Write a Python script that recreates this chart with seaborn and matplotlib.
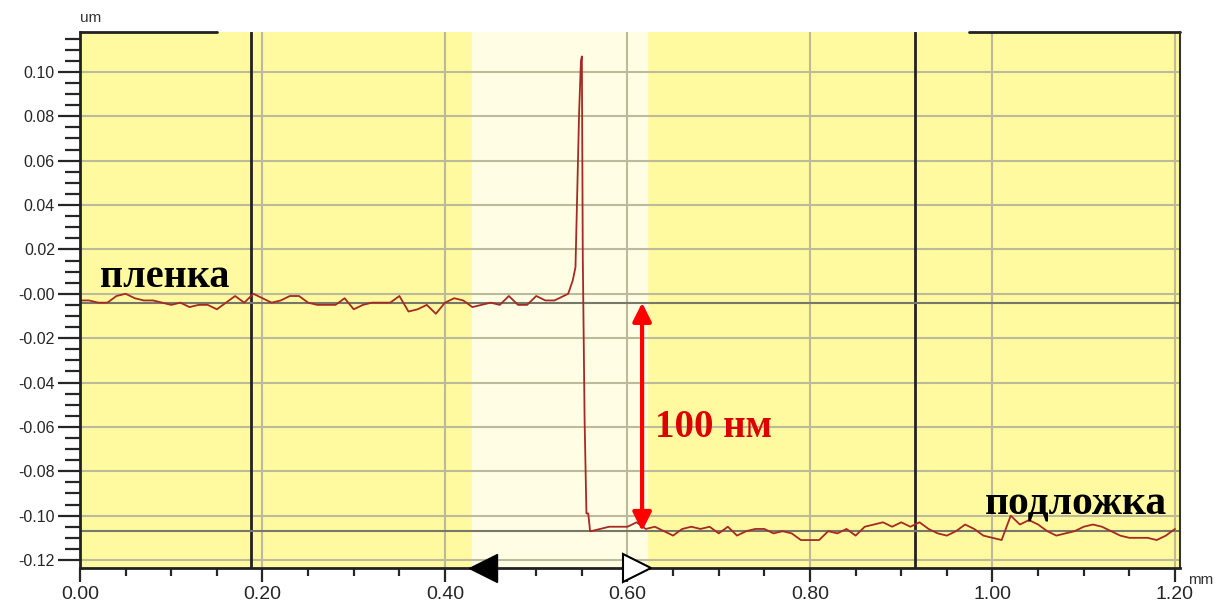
import numpy as np
import pandas as pd
import seaborn as sns
import matplotlib.pyplot as plt
from matplotlib.ticker import MultipleLocator

# profile (um vs mm)
film_y = [-0.003, -0.003, -0.004, -0.004, -0.001, 0.000, -0.002, -0.003, -0.003, -0.004,
          -0.005, -0.004, -0.006, -0.005, -0.005, -0.007, -0.004, -0.001, -0.004, 0.000,
          -0.002, -0.004, -0.003, -0.001, -0.001, -0.004, -0.005, -0.005, -0.005, -0.002,
          -0.007, -0.005, -0.004, -0.004, -0.004, -0.001, -0.008, -0.007, -0.005, -0.009,
          -0.004, -0.002, -0.003, -0.006, -0.005, -0.004, -0.005, -0.001, -0.005, -0.005,
          -0.001, -0.003, -0.003, -0.001]
step_x = [0.535, 0.540, 0.543, 0.545, 0.547, 0.549, 0.550, 0.551, 0.553, 0.555, 0.557, 0.559]
step_y = [0.000, 0.006, 0.012, 0.048, 0.082, 0.105, 0.107, 0.017, -0.057, -0.099, -0.099, -0.107]
sub_y = [-0.107, -0.106, -0.105, -0.105, -0.105, -0.103, -0.106, -0.105, -0.107, -0.109,
         -0.106, -0.105, -0.106, -0.105, -0.108, -0.105, -0.109, -0.107, -0.106, -0.106,
         -0.108, -0.107, -0.108, -0.111, -0.111, -0.111, -0.107, -0.108, -0.106, -0.109,
         -0.105, -0.104, -0.103, -0.105, -0.103, -0.105, -0.103, -0.106, -0.108, -0.109,
         -0.107, -0.104, -0.106, -0.109, -0.110, -0.111, -0.100, -0.104, -0.102, -0.104,
         -0.107, -0.109, -0.108, -0.107, -0.105, -0.104, -0.105, -0.107, -0.109, -0.110,
         -0.110, -0.110, -0.111, -0.109, -0.106]

xticks = [0.0, 0.2, 0.4, 0.6, 0.8, 1.0, 1.2]
xtick_labels = ["0.00", "0.20", "0.40", "0.60", "0.80", "1.00", "1.20"]
yticks = [-0.12, -0.10, -0.08, -0.06, -0.04, -0.02, 0.0, 0.02, 0.04, 0.06, 0.08, 0.10]
ytick_labels = ["-0.12", "-0.10", "-0.08", "-0.06", "-0.04", "-0.02", "-0.00",
                "0.02", "0.04", "0.06", "0.08", "0.10"]

film_x = np.linspace(0.0, 0.53, len(film_y))
sub_x = np.linspace(0.56, 1.20, len(sub_y))
df = pd.DataFrame({"x": np.concatenate([film_x, step_x, sub_x]),
                   "y": np.concatenate([film_y, step_y, sub_y])})

sns.set_style("white")
plt.rcParams['font.family'] = ['Liberation Sans', 'DejaVu Sans']

fig = plt.figure(figsize=(12.23, 6.09), dpi=100)
ax = fig.add_axes([80/1223, 1 - 568/609, 1100/1223, 536/609])
ax.set_facecolor('#fffa9f')
ax.axvspan(0.43, 0.621, color='#fffde3', zorder=0)

ax.set_xlim(0, 1.2055)
ax.set_ylim(-0.1236, 0.118)
ax.set_xticks(xticks, labels=xtick_labels)
ax.set_yticks(yticks, labels=ytick_labels)
ax.xaxis.set_minor_locator(MultipleLocator(0.05))
ax.yaxis.set_minor_locator(MultipleLocator(0.005))
ax.set_axisbelow(True)
ax.grid(True, which='major', color='#bdb99c', lw=1.5)

ax.tick_params(axis='y', which='major', length=16, width=1.6, labelsize=11.5, pad=2, left=True)
ax.tick_params(axis='y', which='minor', length=11, width=1.6, left=True)
ax.tick_params(axis='x', which='major', length=10, width=1.6, labelsize=14, pad=3, bottom=True)
ax.tick_params(axis='x', which='minor', length=6, width=1.6, bottom=True)

for side in ['left', 'bottom']:
    ax.spines[side].set_linewidth(2)
    ax.spines[side].set_color('#222222')
ax.spines['right'].set_linewidth(1.5)
ax.spines['right'].set_color('#333333')
ax.spines['top'].set_visible(False)
ax.axhline(0.118, xmin=0, xmax=0.1245, color='#222222', lw=2, clip_on=False)
ax.axhline(0.118, xmin=0.808, xmax=1, color='#222222', lw=2, clip_on=False)

ax.axvline(0.187, color='#222222', lw=2)
ax.axvline(0.915, color='#222222', lw=2)
ax.axhline(-0.004, color='#77776a', lw=1.5)
ax.axhline(-0.107, color='#77776a', lw=1.5)

sns.lineplot(data=df, x="x", y="y", ax=ax, color='#a52a25', lw=1.3,
             estimator=None, sort=False)
ax.set_xlabel("")
ax.set_ylabel("")

# cursor markers on the x axis
ax.plot([0.442], [-0.1236], marker='<', ms=20, color='black', clip_on=False, zorder=5)
ax.plot([0.610], [-0.1236], marker='>', ms=20, mfc='white', mec='black', mew=1.5,
        clip_on=False, zorder=5)

ax.annotate('', xy=(0.616, -0.107), xytext=(0.616, -0.004),
            arrowprops=dict(arrowstyle='<|-|>', color='red', lw=3, mutation_scale=28,
                            shrinkA=0, shrinkB=0))
ax.text(0.630, -0.0604, '100 нм', color='#dd0000', fontsize=28, fontweight='bold',
        family='Liberation Serif', va='center', ha='left')
ax.text(0.022, 0.0031, 'пленка', color='black', fontsize=29, fontweight='bold',
        family='Liberation Serif', va='baseline', ha='left')
ax.text(0.992, -0.0995, 'подложка', color='black', fontsize=30, fontweight='bold',
        family='Liberation Serif', va='baseline', ha='left')

fig.text(80/1223, 1 - 18/609, 'um', fontsize=11, va='center', ha='left', color='#333333')
fig.text(1188/1223, 1 - 580/609, 'mm', fontsize=11, va='center', ha='left', color='#333333')

fig.savefig('out.png', dpi=100)
